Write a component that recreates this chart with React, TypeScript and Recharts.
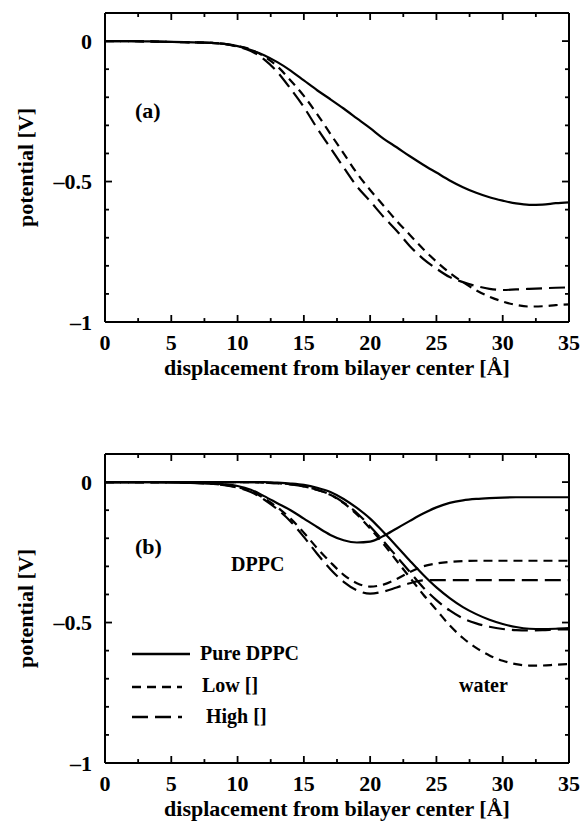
import React from 'react';
import { LineChart, Line, XAxis, YAxis, Legend, Label, ReferenceLine } from 'recharts';

const FONT = '"Liberation Serif", "Times New Roman", serif';

// sample positions along the bilayer normal [Å]
const xs = [0, 2, 4, 6, 8, 9, 10, 11, 12, 13, 14, 15, 16, 17, 18, 19, 20, 21, 22, 23, 24, 25, 26, 27, 28, 29, 30, 31, 32, 33, 34, 35];

// panel (a): total potential
const aPure = [0, 0, -0.002, -0.004, -0.006, -0.01, -0.018, -0.032, -0.05, -0.075, -0.105, -0.14, -0.175, -0.207, -0.24, -0.275, -0.31, -0.347, -0.378, -0.41, -0.44, -0.468, -0.496, -0.52, -0.54, -0.556, -0.568, -0.578, -0.583, -0.582, -0.577, -0.574];
const aLow = [0, 0, -0.002, -0.004, -0.006, -0.01, -0.018, -0.03, -0.055, -0.09, -0.14, -0.195, -0.26, -0.33, -0.4, -0.47, -0.53, -0.585, -0.64, -0.69, -0.74, -0.785, -0.825, -0.858, -0.887, -0.91, -0.927, -0.939, -0.945, -0.944, -0.94, -0.937];
const aHigh = [0, 0, -0.002, -0.004, -0.006, -0.01, -0.02, -0.035, -0.065, -0.11, -0.17, -0.235, -0.31, -0.38, -0.45, -0.517, -0.57, -0.625, -0.675, -0.73, -0.775, -0.81, -0.84, -0.858, -0.872, -0.882, -0.886, -0.884, -0.882, -0.88, -0.878, -0.877];

// panel (b): DPPC and water contributions
const bPureDppc = [0, 0, 0, -0.002, -0.005, -0.008, -0.014, -0.027, -0.05, -0.075, -0.1, -0.13, -0.16, -0.188, -0.207, -0.215, -0.212, -0.192, -0.165, -0.138, -0.112, -0.09, -0.074, -0.065, -0.06, -0.057, -0.055, -0.054, -0.054, -0.054, -0.054, -0.054];
const bLowDppc = [0, 0, 0, -0.002, -0.006, -0.01, -0.018, -0.032, -0.058, -0.09, -0.13, -0.18, -0.235, -0.285, -0.33, -0.36, -0.372, -0.365, -0.345, -0.32, -0.3, -0.29, -0.284, -0.281, -0.28, -0.28, -0.28, -0.28, -0.28, -0.28, -0.28, -0.28];
const bHighDppc = [0, 0, 0, -0.002, -0.006, -0.011, -0.02, -0.035, -0.062, -0.097, -0.14, -0.195, -0.255, -0.31, -0.355, -0.385, -0.397, -0.39, -0.375, -0.36, -0.35, -0.349, -0.349, -0.349, -0.349, -0.349, -0.349, -0.349, -0.349, -0.349, -0.349, -0.349];
const bPureWater = [0, 0, 0, 0, 0, 0, 0, 0, 0, -0.002, -0.005, -0.01, -0.02, -0.035, -0.06, -0.092, -0.13, -0.178, -0.228, -0.28, -0.33, -0.375, -0.413, -0.445, -0.47, -0.49, -0.505, -0.516, -0.522, -0.523, -0.522, -0.52];
const bLowWater = [0, 0, 0, 0, 0, 0, 0, 0, -0.002, -0.004, -0.008, -0.015, -0.028, -0.045, -0.075, -0.115, -0.165, -0.22, -0.28, -0.34, -0.4, -0.455, -0.51, -0.555, -0.59, -0.617, -0.636, -0.648, -0.653, -0.653, -0.65, -0.648];
const bHighWater = [0, 0, 0, 0, 0, 0, 0, 0, -0.002, -0.004, -0.008, -0.015, -0.027, -0.045, -0.073, -0.11, -0.158, -0.21, -0.265, -0.32, -0.375, -0.42, -0.457, -0.485, -0.503, -0.515, -0.523, -0.527, -0.528, -0.527, -0.525, -0.524];

const xTicks = [0, 2.5, 5, 7.5, 10, 12.5, 15, 17.5, 20, 22.5, 25, 27.5, 30, 32.5, 35];
const yTicks = [-1, -0.9, -0.8, -0.7, -0.6, -0.5, -0.4, -0.3, -0.2, -0.1, 0, 0.1];

const SHORT = '9 6';
const LONG = '16 7';

const legendItems = [
  { label: 'Pure DPPC', dash: undefined as string | undefined },
  { label: 'Low []', dash: SHORT },
  { label: 'High []', dash: LONG },
];

const dataA = xs.map((x, i) => ({ x, pure: aPure[i], low: aLow[i], high: aHigh[i] }));
const dataB = xs.map((x, i) => ({
  x,
  pureDppc: bPureDppc[i],
  lowDppc: bLowDppc[i],
  highDppc: bHighDppc[i],
  pureWater: bPureWater[i],
  lowWater: bLowWater[i],
  highWater: bHighWater[i],
}));

const seriesA = [
  { key: 'pure', dash: undefined },
  { key: 'low', dash: SHORT },
  { key: 'high', dash: LONG },
];
const seriesB = [
  { key: 'pureDppc', dash: undefined },
  { key: 'lowDppc', dash: SHORT },
  { key: 'highDppc', dash: LONG },
  { key: 'pureWater', dash: undefined },
  { key: 'lowWater', dash: SHORT },
  { key: 'highWater', dash: LONG },
];

const AXIS = { stroke: '#000', strokeWidth: 2 };
const TXT = { fontFamily: FONT, fontWeight: 'bold' as const, fill: '#000' };

// axis ids: 1 = 1px frame axes (next to the plot), 2 = labelled axes outside them
const MARK = 1;
const LAB = 2;

const isMajorX = (v: number) => v % 5 === 0;
const isMajorY = (v: number) => Math.abs(v * 2 - Math.round(v * 2)) < 1e-6;
const fmtY = (v: number) => (v < 0 ? '\u2013' + Math.abs(v) : String(v));

// inward tick lengths expressed in axis units (about 7px major / 4px minor)
const xTickLen = (v: number) => (isMajorX(v) ? 0.025 : 0.014);
const yTickLen = (v: number) => (isMajorY(v) ? 0.53 : 0.3);

const TopMark = (p: any) => {
  const major = isMajorX(p.payload.value);
  return <line x1={p.x} x2={p.x} y1={p.y} y2={p.y + (major ? 7 : 4)} stroke="#000" strokeWidth={1.8} />;
};
const RightMark = (p: any) => {
  const major = isMajorY(p.payload.value);
  return <line x1={p.x} x2={p.x - (major ? 7 : 4)} y1={p.y} y2={p.y} stroke="#000" strokeWidth={1.8} />;
};

const BottomLabel = (p: any) => {
  const v = p.payload.value;
  if (!isMajorX(v)) return <g />;
  return (
    <text x={p.x} y={p.y + 19} dy="0.35em" textAnchor="middle" fontSize={22} {...TXT}>
      {v}
    </text>
  );
};

const LeftLabel = (p: any) => {
  const v = p.payload.value;
  if (!isMajorY(v)) return <g />;
  return (
    <text x={p.x - 12} y={p.y} dy="0.35em" textAnchor="end" fontSize={22} {...TXT}>
      {fmtY(v)}
    </text>
  );
};

const renderLegend = () => (
  <svg width={200} height={92}>
    {legendItems.map((it, i) => (
      <g key={it.label}>
        <line
          x1={7}
          x2={it.dash ? 57 : 65}
          y1={[14, 47, 77][i]}
          y2={[14, 47, 77][i]}
          stroke="#000"
          strokeWidth={2.4}
          strokeDasharray={it.dash}
        />
        <text x={[75, 77, 81][i]} y={[13, 45, 76][i]} dy="0.35em" fontSize={20} {...TXT}>
          {it.label}
        </text>
      </g>
    ))}
  </svg>
);

type PanelProps = {
  data: any[];
  series: { key: string; dash?: string }[];
  height: number;
  withLegend?: boolean;
};

const frameAxisX = { dataKey: 'x', type: 'number' as const, domain: [0, 35], ticks: xTicks, interval: 0, tickSize: 0, tickMargin: 0, tickLine: false };
const frameAxisY = { type: 'number' as const, domain: [-1, 0.1], ticks: yTicks, interval: 0, tickSize: 0, tickMargin: 0, tickLine: false };

const Panel = ({ data, series, height, withLegend }: PanelProps) => (
  <LineChart width={581} height={height} data={data} margin={{ top: 12, right: 11, left: 0, bottom: 0 }}>
    {/* labelled axes */}
    <XAxis xAxisId={LAB} {...frameAxisX} axisLine={false} tick={BottomLabel} height={height - 13 - 309 - 1}>
      <Label value="displacement from bilayer center [Å]" position="insideTop" offset={36} fontSize={22} {...TXT} />
    </XAxis>
    <YAxis yAxisId={LAB} {...frameAxisY} axisLine={false} tick={LeftLabel} width={104}>
      <Label
        value="potential [V]"
        angle={-90}
        position="insideLeft"
        offset={25}
        fontSize={22}
        style={{ textAnchor: 'middle' }}
        {...TXT}
      />
    </YAxis>
    {/* frame */}
    <XAxis xAxisId={MARK} orientation="bottom" {...frameAxisX} axisLine={AXIS} tick={false} height={1} />
    <XAxis xAxisId="top" orientation="top" {...frameAxisX} axisLine={AXIS} tick={TopMark} height={1} />
    <YAxis yAxisId={MARK} orientation="left" {...frameAxisY} axisLine={AXIS} tick={false} width={1} />
    <YAxis yAxisId="right" orientation="right" {...frameAxisY} axisLine={AXIS} tick={RightMark} width={1} />
    {/* inward tick marks on the bottom and left edges */}
    {xTicks.map((t) => (
      <ReferenceLine
        key={'bx' + t}
        xAxisId={MARK}
        yAxisId={MARK}
        segment={[{ x: t, y: -1 }, { x: t, y: -1 + xTickLen(t) }]}
        stroke="#000"
        strokeWidth={1.8}
      />
    ))}
    {yTicks.map((t) => (
      <ReferenceLine
        key={'ly' + t}
        xAxisId={MARK}
        yAxisId={MARK}
        segment={[{ x: 0, y: t }, { x: yTickLen(t), y: t }]}
        stroke="#000"
        strokeWidth={1.8}
      />
    ))}
    {/* invisible copies so the other axes get rendered */}
    <Line xAxisId="top" yAxisId="right" dataKey={series[0].key} stroke="none" dot={false} activeDot={false} legendType="none" isAnimationActive={false} />
    <Line xAxisId={LAB} yAxisId={LAB} dataKey={series[0].key} stroke="none" dot={false} activeDot={false} legendType="none" isAnimationActive={false} />
    {series.map((s) => (
      <Line
        key={s.key}
        xAxisId={MARK}
        yAxisId={MARK}
        dataKey={s.key}
        type="monotone"
        stroke="#000"
        strokeWidth={2.2}
        strokeDasharray={s.dash}
        dot={false}
        activeDot={false}
        isAnimationActive={false}
      />
    ))}
    {withLegend && (
      <Legend
        layout="vertical"
        align="center"
        verticalAlign="middle"
        content={renderLegend}
        wrapperStyle={{ left: 125, top: 199, width: 200, height: 92 }}
      />
    )}
  </LineChart>
);

export default function App() {
  return (
    <div style={{ position: 'absolute', left: 0, top: 0, width: 581, height: 823, background: '#fff' }}>
      <div style={{ position: 'absolute', left: 0, top: 0 }}>
        <Panel data={dataA} series={seriesA} height={400} />
      </div>
      <div style={{ position: 'absolute', left: 0, top: 441 }}>
        <Panel data={dataB} series={seriesB} height={382} withLegend />
      </div>
      <svg width={581} height={823} style={{ position: 'absolute', left: 0, top: 0, pointerEvents: 'none' }}>
        <text x={135} y={110} dy="0.35em" fontSize={22} {...TXT}>(a)</text>
        <text x={135} y={546} dy="0.35em" fontSize={22} {...TXT}>(b)</text>
        <text x={231} y={564} dy="0.35em" fontSize={20} {...TXT}>DPPC</text>
        <text x={459} y={685} dy="0.35em" fontSize={20} {...TXT}>water</text>
      </svg>
    </div>
  );
}
